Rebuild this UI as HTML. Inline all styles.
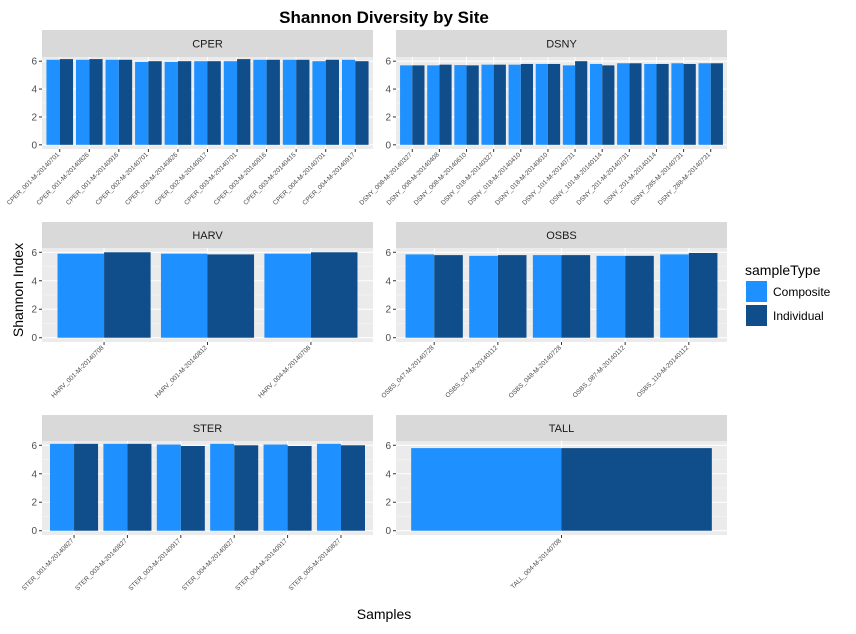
<!DOCTYPE html>
<html><head><meta charset="utf-8"><style>
body{margin:0;background:#fff;font-family:"Liberation Sans",sans-serif}
</style></head><body>
<svg id="c" width="856" height="629" xmlns="http://www.w3.org/2000/svg"></svg>
<script>
const panelNames=["CPER","DSNY","HARV","OSBS","STER","TALL"];
const cperLabels=["CPER_001-M-20140701","CPER_001-M-20140826","CPER_001-M-20140916","CPER_002-M-20140701","CPER_002-M-20140826","CPER_002-M-20140917","CPER_003-M-20140701","CPER_003-M-20140916","CPER_003-M-20140415","CPER_004-M-20140701","CPER_004-M-20140917"];
const cperComp=[6.1,6.1,6.1,5.95,5.95,6.0,6.0,6.1,6.1,6.0,6.1];
const cperInd=[6.15,6.15,6.1,6.0,6.0,6.0,6.15,6.1,6.1,6.1,6.0];
const dsnyLabels=["DSNY_008-M-20140327","DSNY_008-M-20140408","DSNY_008-M-20140610","DSNY_018-M-20140327","DSNY_018-M-20140410","DSNY_018-M-20140610","DSNY_101-M-20140731","DSNY_101-M-20140114","DSNY_201-M-20140731","DSNY_201-M-20140114","DSNY_285-M-20140731","DSNY_288-M-20140731"];
const dsnyComp=[5.7,5.7,5.72,5.75,5.75,5.8,5.7,5.8,5.85,5.8,5.85,5.85];
const dsnyInd=[5.7,5.75,5.7,5.75,5.8,5.8,6.0,5.7,5.85,5.8,5.8,5.85];
const harvLabels=["HARV_001-M-20140708","HARV_001-M-20140812","HARV_004-M-20140708"];
const harvComp=[5.9,5.9,5.9];
const harvInd=[6.0,5.85,6.0];
const osbsLabels=["OSBS_047-M-20140728","OSBS_047-M-20140112","OSBS_048-M-20140728","OSBS_087-M-20140112","OSBS_110-M-20140112"];
const osbsComp=[5.85,5.75,5.8,5.75,5.85];
const osbsInd=[5.8,5.8,5.8,5.75,5.95];
const sterLabels=["STER_001-M-20140827","STER_003-M-20140827","STER_003-M-20140917","STER_004-M-20140827","STER_004-M-20140917","STER_005-M-20140827"];
const sterComp=[6.1,6.1,6.05,6.1,6.05,6.1];
const sterInd=[6.1,6.1,5.95,6.0,5.95,6.0];
const tallLabels=["TALL_004-M-20140708"];
const tallComp=[5.8];
const tallInd=[5.8];
const yTicks=[0,2,4,6];

const data=[[cperLabels,cperComp,cperInd],[dsnyLabels,dsnyComp,dsnyInd],[harvLabels,harvComp,harvInd],[osbsLabels,osbsComp,osbsInd],[sterLabels,sterComp,sterInd],[tallLabels,tallComp,tallInd]];
const svg=document.getElementById('c');
const NS="http://www.w3.org/2000/svg";
function mk(t,a,p){const e=document.createElementNS(NS,t);for(const k in a)e.setAttribute(k,a[k]);(p||svg).appendChild(e);return e;}
const cols=[[42,373],[396,727]];
const rows=[[30,57,149],[222,248,342],[415,441,535]];
const YMIN=-0.3,YMAX=6.3;
data.forEach((d,i)=>{
 const [x0,x1]=cols[i%2];const [st,y0,y1]=rows[Math.floor(i/2)];
 const g=mk('g',{});
 
 
 const yS=v=>y1-(v-YMIN)/(YMAX-YMIN)*(y1-y0);
 const n=d[0].length,step=(x1-x0)/(n+0.2);
 const xS=k=>x0+step*(0.6+k);
 const strip=mk('rect',{x:x0,y:st,width:x1-x0,height:y0-st,fill:'#d9d9d9'},g);
 
 const stt=mk('text',{x:(x0+x1)/2,y:(st+y0)/2+4,'text-anchor':'middle','font-size':11,fill:'#1a1a1a'},g);stt.textContent=panelNames[i];
 
 mk('rect',{x:x0,y:y0,width:x1-x0,height:y1-y0,fill:'#ebebeb'},g);
 [1,3,5].forEach(v=>mk('line',{x1:x0,x2:x1,y1:yS(v),y2:yS(v),stroke:'#f5f5f5','stroke-width':0.6},g));
 yTicks.forEach(v=>{mk('line',{x1:x0,x2:x1,y1:yS(v),y2:yS(v),stroke:'#fff','stroke-width':1.1},g);
  mk('line',{x1:x0-3,x2:x0,y1:yS(v),y2:yS(v),stroke:'#333'},g);
  const t=mk('text',{x:x0-5,y:yS(v)+3.5,'text-anchor':'end','font-size':10,fill:'#4d4d4d'},g);t.textContent=v;
  });
 for(let k=0;k<n;k++){
  mk('line',{x1:xS(k),x2:xS(k),y1:y0,y2:y1,stroke:'#fff','stroke-width':1.1},g);
  const bw=step*(n===1?0.545:0.45);
  const b1=mk('rect',{x:xS(k)-bw,y:yS(d[1][k]),width:bw,height:yS(0)-yS(d[1][k]),fill:'#1e90ff'},g);
  
  const b2=mk('rect',{x:xS(k),y:yS(d[2][k]),width:bw,height:yS(0)-yS(d[2][k]),fill:'#104e8b'},g);
  
  mk('line',{x1:xS(k),x2:xS(k),y1:y1,y2:y1+3,stroke:'#333'},g);
  const t=mk('text',{x:xS(k),y:y1+6,'text-anchor':'end','font-size':6.5,fill:'#4d4d4d',transform:`rotate(-45 ${xS(k)} ${y1+6})`},g);
  t.textContent=d[0][k];
  
 }
});
function txt(s,a,name){const t=mk('text',a);t.textContent=s;return t;}
txt('Shannon Diversity by Site',{x:384,y:23,'text-anchor':'middle','font-size':17,'font-weight':'bold'},'chart-title');
txt('Samples',{x:384,y:619,'text-anchor':'middle','font-size':14},'x-axis-title');
txt('Shannon Index',{x:23,y:290,'text-anchor':'middle','font-size':14,transform:'rotate(-90 23 290)'},'y-axis-title');
txt('sampleType',{x:745,y:275,'font-size':14},'legend-title');
const l1=mk('rect',{x:746,y:281,width:21,height:21,fill:'#1e90ff'});
const l2=mk('rect',{x:746,y:305,width:21,height:21,fill:'#104e8b'});
txt('Composite',{x:773,y:296,'font-size':12},'legend-label-composite');
txt('Individual',{x:773,y:320,'font-size':12},'legend-label-individual');
</script>
</body></html>
